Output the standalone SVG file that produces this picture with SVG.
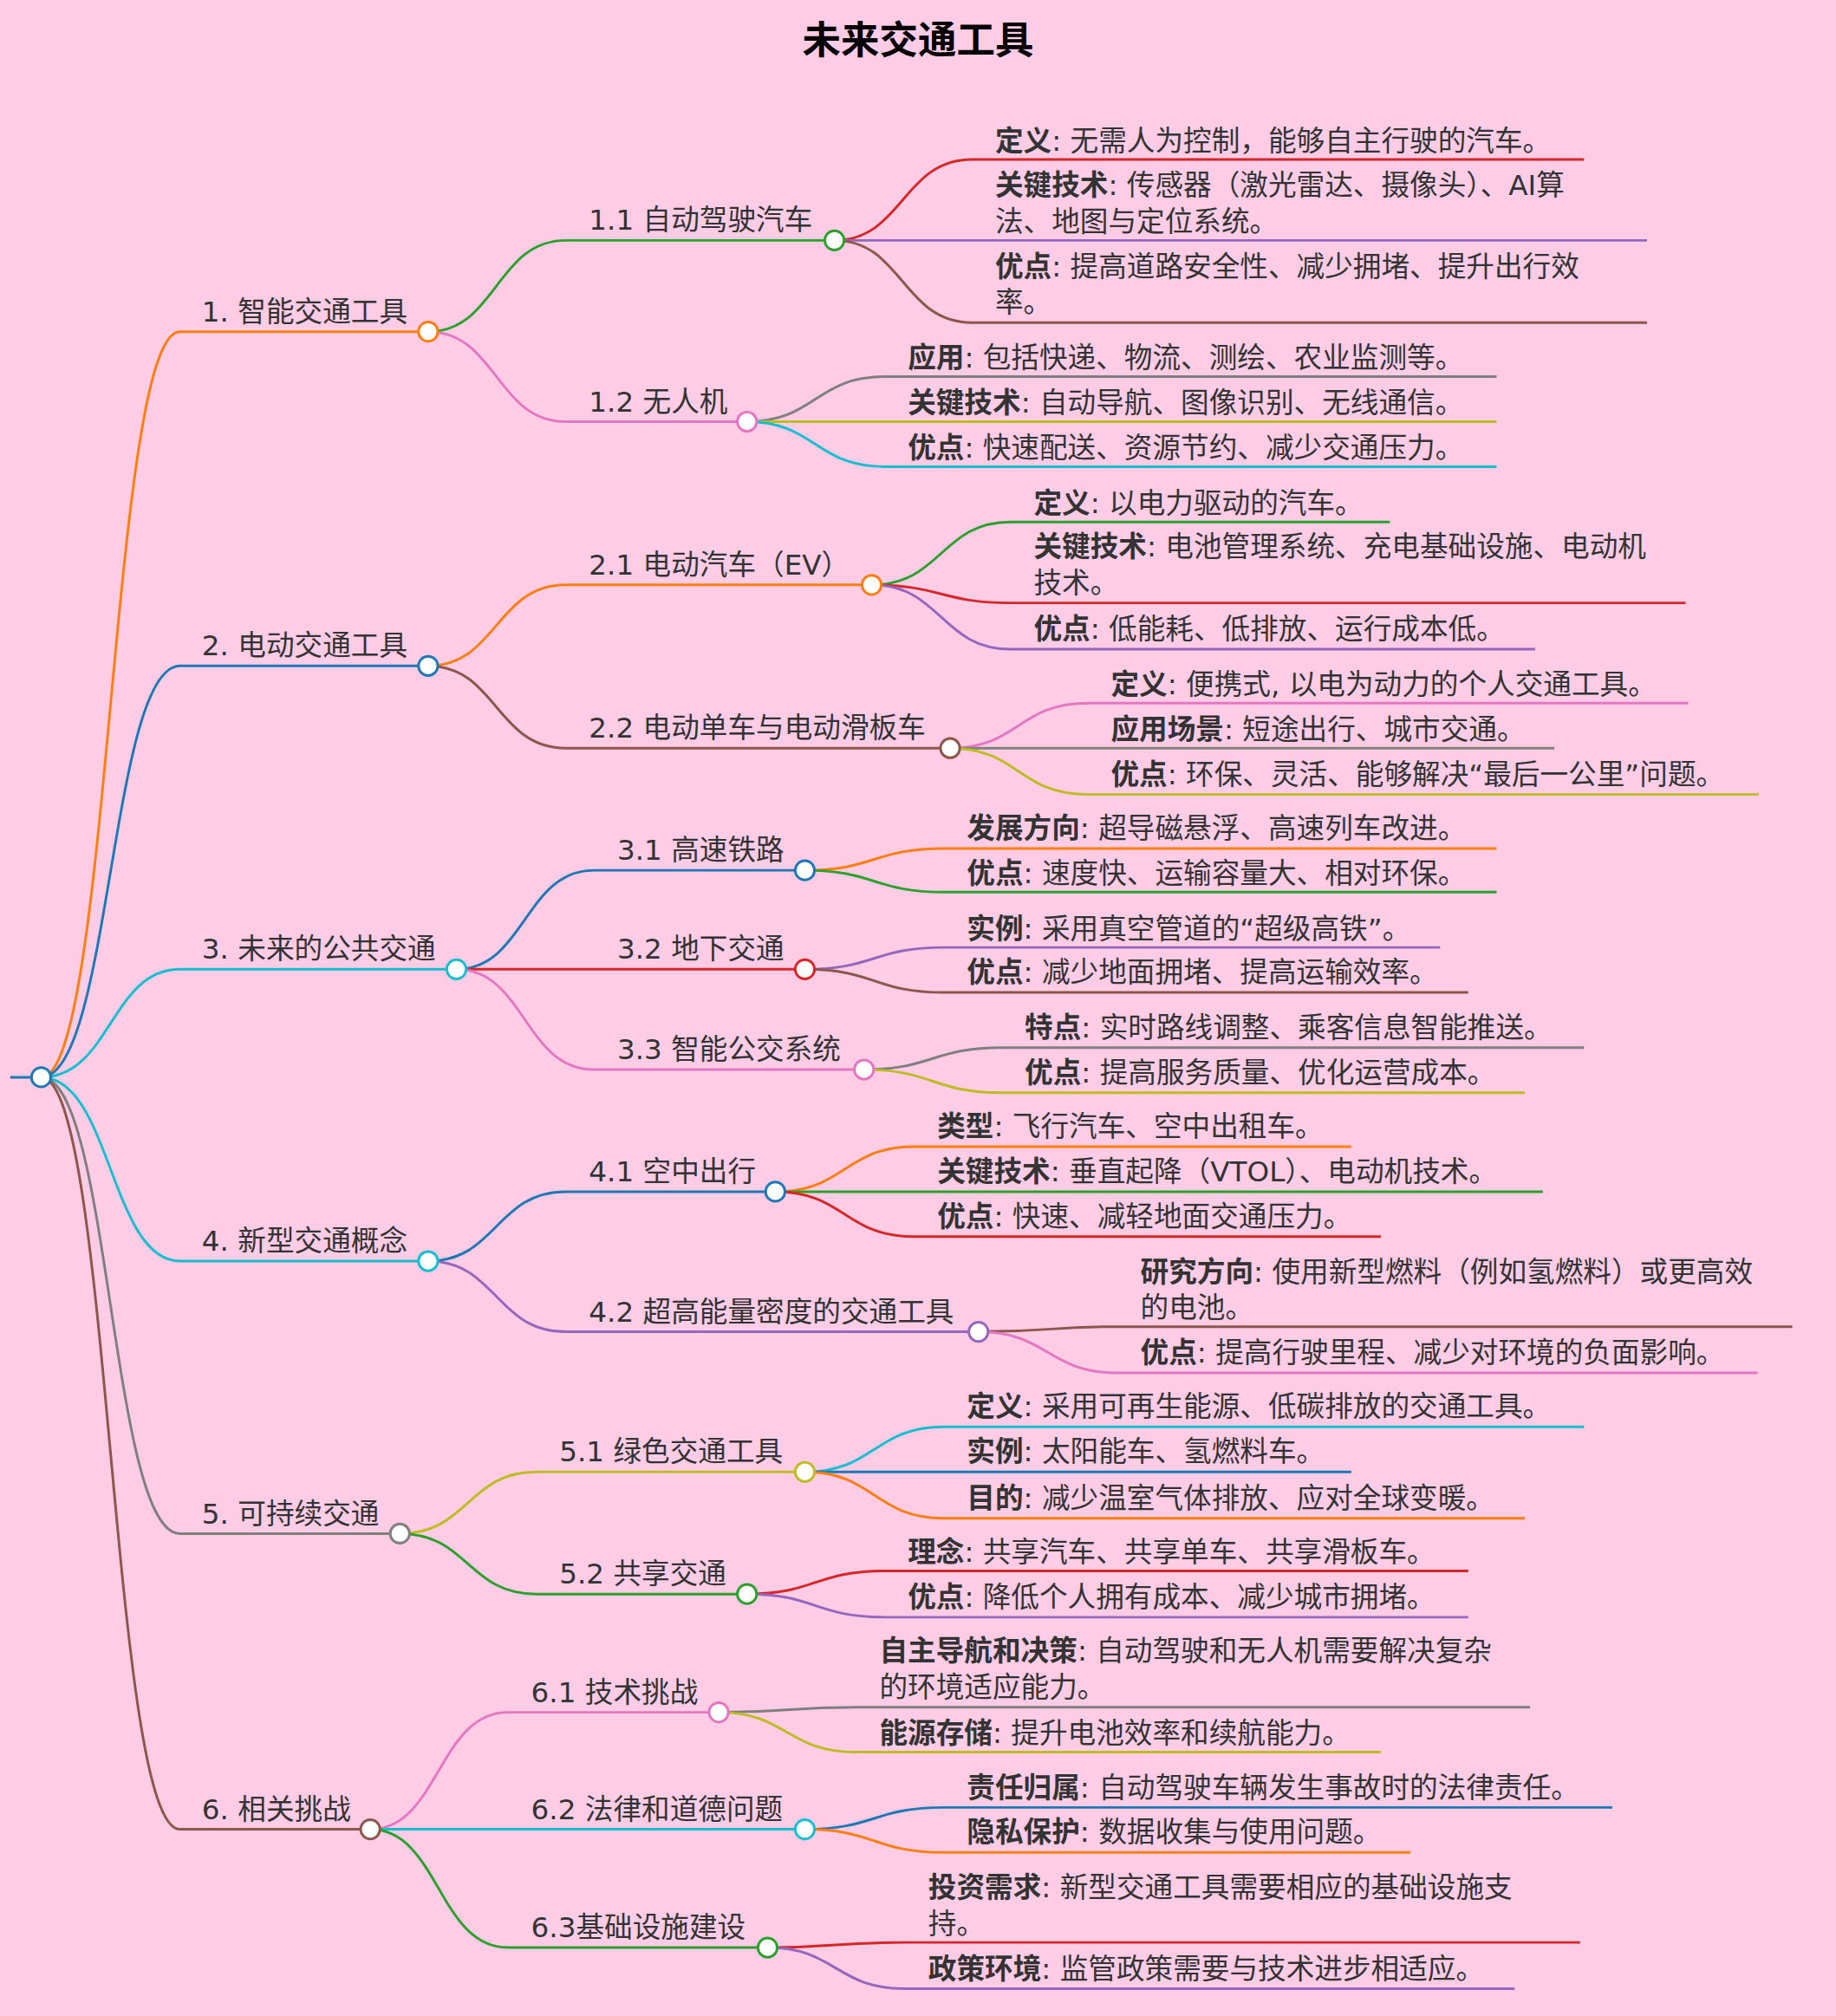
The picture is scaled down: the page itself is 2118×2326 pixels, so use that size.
<svg xmlns="http://www.w3.org/2000/svg" width="2118" height="2326" viewBox="0 0 2118 2326">
<style>
text{font-family:"DejaVu Sans","Noto Sans CJK SC",sans-serif;fill:#333;font-size:22px}
.t{font-size:30px;font-weight:bold;fill:#000}
.b{font-weight:bold}
path{fill:none;stroke-width:2}
circle{fill:#fff;stroke-width:2}
</style>
<rect width="2118" height="2326" fill="#ffcce6"/>
<g transform="scale(1.4832)">
<text class="t" x="714" y="42" text-anchor="middle">未来交通工具</text>
<g id="connectors">
<path d="M8 838H32" stroke="#1f77b4"/>
<path d="M32 838C86 838 86 258 140 258H333" stroke="#ff7f0e"/>
<path d="M32 838C86 838 86 518 140 518H333" stroke="#1f77b4"/>
<path d="M32 838C86 838 86 754 140 754H355" stroke="#17becf"/>
<path d="M32 838C86 838 86 981 140 981H333" stroke="#17becf"/>
<path d="M32 838C86 838 86 1193 140 1193H311" stroke="#7f7f7f"/>
<path d="M32 838C86 838 86 1423 140 1423H288" stroke="#8c564b"/>
<path d="M333 258C386 258 386 187 440 187H649" stroke="#2ca02c"/>
<path d="M333 258C386 258 386 328 440 328H581" stroke="#e377c2"/>
<path d="M333 518C386 518 386 455 440 455H678" stroke="#ff7f0e"/>
<path d="M333 518C386 518 386 582 440 582H739" stroke="#8c564b"/>
<path d="M355 754C408 754 408 677 462 677H626" stroke="#1f77b4"/>
<path d="M355 754H626" stroke="#d62728"/>
<path d="M355 754C408 754 408 832 462 832H672" stroke="#e377c2"/>
<path d="M333 981C386 981 386 927 440 927H603" stroke="#1f77b4"/>
<path d="M333 981C386 981 386 1036 440 1036H761" stroke="#9467bd"/>
<path d="M311 1193C364 1193 364 1145 417 1145H626" stroke="#bcbd22"/>
<path d="M311 1193C364 1193 364 1240 417 1240H581" stroke="#2ca02c"/>
<path d="M288 1423C341 1423 341 1332 395 1332H559" stroke="#e377c2"/>
<path d="M288 1423H626" stroke="#17becf"/>
<path d="M288 1423C341 1423 341 1515 395 1515H597" stroke="#2ca02c"/>
<path d="M649 187C702 187 702 124 756 124H1232" stroke="#d62728"/>
<path d="M649 187H1281" stroke="#9467bd"/>
<path d="M649 187C702 187 702 251 756 251H1281" stroke="#8c564b"/>
<path d="M581 328C634 328 634 293 688 293H1164" stroke="#7f7f7f"/>
<path d="M581 328H1164" stroke="#bcbd22"/>
<path d="M581 328C634 328 634 363 688 363H1164" stroke="#17becf"/>
<path d="M678 455C732 455 732 406 786 406H1081" stroke="#2ca02c"/>
<path d="M678 455C732 455 732 469 786 469H1311" stroke="#d62728"/>
<path d="M678 455C732 455 732 505 786 505H1194" stroke="#9467bd"/>
<path d="M739 582C792 582 792 547 846 547H1313" stroke="#e377c2"/>
<path d="M739 582H1209" stroke="#7f7f7f"/>
<path d="M739 582C792 582 792 618 846 618H1368" stroke="#bcbd22"/>
<path d="M626 677C680 677 680 660 734 660H1164" stroke="#ff7f0e"/>
<path d="M626 677C680 677 680 694 734 694H1164" stroke="#2ca02c"/>
<path d="M626 754C680 754 680 737 734 737H1120" stroke="#9467bd"/>
<path d="M626 754C680 754 680 772 734 772H1142" stroke="#8c564b"/>
<path d="M672 832C725 832 725 815 779 815H1232" stroke="#7f7f7f"/>
<path d="M672 832C725 832 725 850 779 850H1186" stroke="#bcbd22"/>
<path d="M603 927C657 927 657 892 711 892H1051" stroke="#ff7f0e"/>
<path d="M603 927H1200" stroke="#2ca02c"/>
<path d="M603 927C657 927 657 962 711 962H1074" stroke="#d62728"/>
<path d="M761 1036C815 1036 815 1032 869 1032H1394" stroke="#8c564b"/>
<path d="M761 1036C815 1036 815 1068 869 1068H1367" stroke="#e377c2"/>
<path d="M626 1145C680 1145 680 1110 734 1110H1232" stroke="#17becf"/>
<path d="M626 1145H1051" stroke="#1f77b4"/>
<path d="M626 1145C680 1145 680 1181 734 1181H1186" stroke="#ff7f0e"/>
<path d="M581 1240C634 1240 634 1222 688 1222H1142" stroke="#d62728"/>
<path d="M581 1240C634 1240 634 1258 688 1258H1142" stroke="#9467bd"/>
<path d="M559 1332C612 1332 612 1328 666 1328H1190" stroke="#7f7f7f"/>
<path d="M559 1332C612 1332 612 1363 666 1363H1074" stroke="#bcbd22"/>
<path d="M626 1423C680 1423 680 1406 734 1406H1254" stroke="#1f77b4"/>
<path d="M626 1423C680 1423 680 1441 734 1441H1097" stroke="#ff7f0e"/>
<path d="M597 1515C650 1515 650 1511 704 1511H1229" stroke="#d62728"/>
<path d="M597 1515C650 1515 650 1547 704 1547H1178" stroke="#9467bd"/>
</g>
<g id="root"><circle cx="32" cy="838" r="7.5" stroke="#1f77b4"/></g>
<g id="n1"><text x="157" y="250">1. 智能交通工具</text><circle cx="333" cy="258" r="7.5" stroke="#ff7f0e"/></g>
<g id="n2"><text x="157" y="510">2. 电动交通工具</text><circle cx="333" cy="518" r="7.5" stroke="#1f77b4"/></g>
<g id="n3"><text x="157" y="746">3. 未来的公共交通</text><circle cx="355" cy="754" r="7.5" stroke="#17becf"/></g>
<g id="n4"><text x="157" y="973">4. 新型交通概念</text><circle cx="333" cy="981" r="7.5" stroke="#17becf"/></g>
<g id="n5"><text x="157" y="1185">5. 可持续交通</text><circle cx="311" cy="1193" r="7.5" stroke="#7f7f7f"/></g>
<g id="n6"><text x="157" y="1415">6. 相关挑战</text><circle cx="288" cy="1423" r="7.5" stroke="#8c564b"/></g>
<g id="n11"><text x="458" y="179">1.1 自动驾驶汽车</text><circle cx="649" cy="187" r="7.5" stroke="#2ca02c"/></g>
<g id="n12"><text x="458" y="320">1.2 无人机</text><circle cx="581" cy="328" r="7.5" stroke="#e377c2"/></g>
<g id="n21"><text x="458" y="447">2.1 电动汽车（EV）</text><circle cx="678" cy="455" r="7.5" stroke="#ff7f0e"/></g>
<g id="n22"><text x="458" y="574">2.2 电动单车与电动滑板车</text><circle cx="739" cy="582" r="7.5" stroke="#8c564b"/></g>
<g id="n31"><text x="480" y="669">3.1 高速铁路</text><circle cx="626" cy="677" r="7.5" stroke="#1f77b4"/></g>
<g id="n32"><text x="480" y="746">3.2 地下交通</text><circle cx="626" cy="754" r="7.5" stroke="#d62728"/></g>
<g id="n33"><text x="480" y="824">3.3 智能公交系统</text><circle cx="672" cy="832" r="7.5" stroke="#e377c2"/></g>
<g id="n41"><text x="458" y="919">4.1 空中出行</text><circle cx="603" cy="927" r="7.5" stroke="#1f77b4"/></g>
<g id="n42"><text x="458" y="1028">4.2 超高能量密度的交通工具</text><circle cx="761" cy="1036" r="7.5" stroke="#9467bd"/></g>
<g id="n51"><text x="435" y="1137">5.1 绿色交通工具</text><circle cx="626" cy="1145" r="7.5" stroke="#bcbd22"/></g>
<g id="n52"><text x="435" y="1232">5.2 共享交通</text><circle cx="581" cy="1240" r="7.5" stroke="#2ca02c"/></g>
<g id="n61"><text x="413" y="1324">6.1 技术挑战</text><circle cx="559" cy="1332" r="7.5" stroke="#e377c2"/></g>
<g id="n62"><text x="413" y="1415">6.2 法律和道德问题</text><circle cx="626" cy="1423" r="7.5" stroke="#17becf"/></g>
<g id="n63"><text x="413" y="1507">6.3基础设施建设</text><circle cx="597" cy="1515" r="7.5" stroke="#2ca02c"/></g>
<g id="leaves">
<text x="774" y="117"><tspan class="b">定义</tspan>: 无需人为控制，能够自主行驶的汽车。</text>
<text x="774" y="152"><tspan class="b">关键技术</tspan>: 传感器（激光雷达、摄像头）、AI算</text>
<text x="774" y="180">法、地图与定位系统。</text>
<text x="774" y="215"><tspan class="b">优点</tspan>: 提高道路安全性、减少拥堵、提升出行效</text>
<text x="774" y="243">率。</text>
<text x="706" y="286"><tspan class="b">应用</tspan>: 包括快递、物流、测绘、农业监测等。</text>
<text x="706" y="321"><tspan class="b">关键技术</tspan>: 自动导航、图像识别、无线通信。</text>
<text x="706" y="356"><tspan class="b">优点</tspan>: 快速配送、资源节约、减少交通压力。</text>
<text x="804" y="399"><tspan class="b">定义</tspan>: 以电力驱动的汽车。</text>
<text x="804" y="433"><tspan class="b">关键技术</tspan>: 电池管理系统、充电基础设施、电动机</text>
<text x="804" y="461">技术。</text>
<text x="804" y="497"><tspan class="b">优点</tspan>: 低能耗、低排放、运行成本低。</text>
<text x="864" y="540"><tspan class="b">定义</tspan>: 便携式, 以电为动力的个人交通工具。</text>
<text x="864" y="575"><tspan class="b">应用场景</tspan>: 短途出行、城市交通。</text>
<text x="864" y="610"><tspan class="b">优点</tspan>: 环保、灵活、能够解决“最后一公里”问题。</text>
<text x="752" y="652"><tspan class="b">发展方向</tspan>: 超导磁悬浮、高速列车改进。</text>
<text x="752" y="687"><tspan class="b">优点</tspan>: 速度快、运输容量大、相对环保。</text>
<text x="752" y="730"><tspan class="b">实例</tspan>: 采用真空管道的“超级高铁”。</text>
<text x="752" y="764"><tspan class="b">优点</tspan>: 减少地面拥堵、提高运输效率。</text>
<text x="797" y="807"><tspan class="b">特点</tspan>: 实时路线调整、乘客信息智能推送。</text>
<text x="797" y="842"><tspan class="b">优点</tspan>: 提高服务质量、优化运营成本。</text>
<text x="729" y="884"><tspan class="b">类型</tspan>: 飞行汽车、空中出租车。</text>
<text x="729" y="919"><tspan class="b">关键技术</tspan>: 垂直起降（VTOL）、电动机技术。</text>
<text x="729" y="954"><tspan class="b">优点</tspan>: 快速、减轻地面交通压力。</text>
<text x="887" y="997"><tspan class="b">研究方向</tspan>: 使用新型燃料（例如氢燃料）或更高效</text>
<text x="887" y="1025">的电池。</text>
<text x="887" y="1060"><tspan class="b">优点</tspan>: 提高行驶里程、减少对环境的负面影响。</text>
<text x="752" y="1102"><tspan class="b">定义</tspan>: 采用可再生能源、低碳排放的交通工具。</text>
<text x="752" y="1137"><tspan class="b">实例</tspan>: 太阳能车、氢燃料车。</text>
<text x="752" y="1173"><tspan class="b">目的</tspan>: 减少温室气体排放、应对全球变暖。</text>
<text x="706" y="1215"><tspan class="b">理念</tspan>: 共享汽车、共享单车、共享滑板车。</text>
<text x="706" y="1250"><tspan class="b">优点</tspan>: 降低个人拥有成本、减少城市拥堵。</text>
<text x="684" y="1292"><tspan class="b">自主导航和决策</tspan>: 自动驾驶和无人机需要解决复杂</text>
<text x="684" y="1320">的环境适应能力。</text>
<text x="684" y="1356"><tspan class="b">能源存储</tspan>: 提升电池效率和续航能力。</text>
<text x="752" y="1398"><tspan class="b">责任归属</tspan>: 自动驾驶车辆发生事故时的法律责任。</text>
<text x="752" y="1433"><tspan class="b">隐私保护</tspan>: 数据收集与使用问题。</text>
<text x="722" y="1476"><tspan class="b">投资需求</tspan>: 新型交通工具需要相应的基础设施支</text>
<text x="722" y="1504">持。</text>
<text x="722" y="1539"><tspan class="b">政策环境</tspan>: 监管政策需要与技术进步相适应。</text>
</g>
</g>
</svg>
